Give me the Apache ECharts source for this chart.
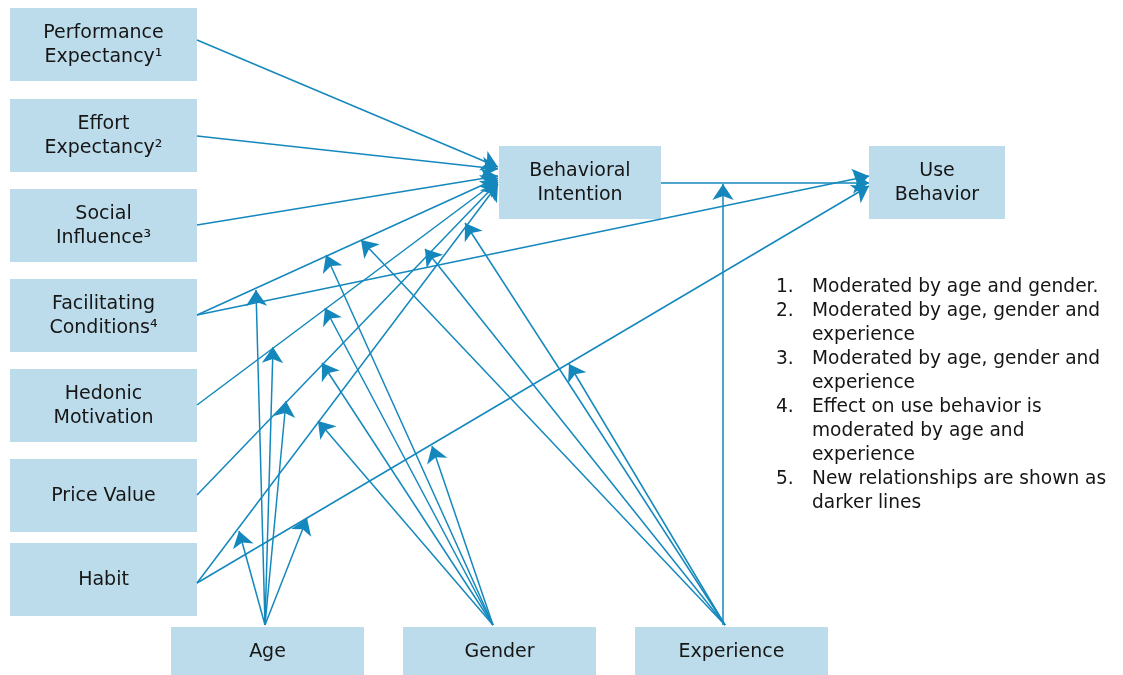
<!DOCTYPE html>
<html><head><meta charset="utf-8">
<script src="https://cdn.jsdelivr.net/npm/echarts@6/dist/echarts.min.js"></script>
<style>html,body{margin:0;padding:0;background:#fff}#c{width:1123px;height:675px}</style>
</head><body><div id="c"></div>
<script>
// ---- Diagram content ----
const constructs = ['Performance\nExpectancy¹','Effort\nExpectancy²','Social\nInfluence³','Facilitating\nConditions⁴','Hedonic\nMotivation','Price Value','Habit'];
const outcomes = ['Behavioral\nIntention','Use\nBehavior'];
const moderators = ['Age','Gender','Experience'];
const notes = ['Moderated by age and gender.','Moderated by age, gender and\nexperience','Moderated by age, gender and\nexperience','Effect on use behavior is\nmoderated by age and\nexperience','New relationships are shown as\ndarker lines'];

// ---- Layout in diagram units (x0, y0, x1, y1) ----
const constructBoxes = [[10,8,197,81],[10,99,197,172],[10,189,197,262],[10,279,197,352],[10,369,197,442],[10,459,197,532],[10,543,197,616]];
const outcomeBoxes = [[499,146,661,219],[869,146,1005,219]];
const moderatorBoxes = [[171,627,364,675],[403,627,596,675],[635,627,828,675]];

// structural paths: [x1,y1,x2,y2] (x2,y2 = arrow tip)
const paths = [
  [197,40,498,167],   // PE -> BI
  [197,136,498,169],  // EE -> BI
  [197,225,498,176],  // SI -> BI
  [197,315,498,178],  // FC -> BI
  [197,315,869,176],  // FC -> UB
  [197,405,498,180],  // HM -> BI
  [197,495,498,182],  // PV -> BI
  [197,583,498,184],  // Habit -> BI
  [197,583,869,186],  // Habit -> UB
  [661,183,869,183]   // BI -> UB
];
// moderation arrows: [x1,y1,x2,y2]
const moderations = [
  [265,625,256,290],[265,625,273,347],[265,625,286,401],[265,625,239,531],[265,625,307,518], // Age
  [493,625,326,255],[493,625,325,308],[493,625,322,363],[493,625,318,421],[493,625,432,446], // Gender
  [725,625,361,240],[725,625,425,249],[725,625,465,223],[725,625,569,364],[723,625,723,184]  // Experience
];

const FONT = '"DejaVu Sans", "Liberation Sans", sans-serif';
const BOX = '#bcdcec', LINE = '#1488bd', TXT = '#161616';
const ARROW = 16;

const boxData = [];
constructs.forEach((t,i)=>boxData.push({value:constructBoxes[i], label:t}));
outcomes.forEach((t,i)=>boxData.push({value:outcomeBoxes[i], label:t}));
moderators.forEach((t,i)=>boxData.push({value:moderatorBoxes[i], label:t}));

const noteRows = [];
let r = 0;
notes.forEach((t,i)=>{ noteRows.push([i, r]); r += t.split('\n').length; });

const chart = echarts.init(document.getElementById('c'));
const toLines = arr => arr.map(a => ({coords:[[a[0],a[1]],[a[2],a[3]]]}));

chart.setOption({
  backgroundColor:'#fff',
  animation:false,
  grid:{left:0,right:0,top:0,bottom:0,containLabel:false},
  xAxis:{type:'value',min:0,max:1123,show:false},
  yAxis:{type:'value',min:0,max:675,inverse:true,show:false},
  series:[
    {
      type:'custom', coordinateSystem:'cartesian2d', z:1,
      data: boxData.map(d=>d.value),
      encode:{x:[0,2],y:[1,3]},
      renderItem:(params, api)=>{
        const p0 = api.coord([api.value(0), api.value(1)]);
        const p1 = api.coord([api.value(2), api.value(3)]);
        return {type:'group', children:[
          {type:'rect', shape:{x:p0[0],y:p0[1],width:p1[0]-p0[0],height:p1[1]-p0[1]}, style:{fill:BOX}},
          {type:'text', x:(p0[0]+p1[0])/2, y:(p0[1]+p1[1])/2+1,
           style:{text:boxData[params.dataIndex].label, fill:TXT, font:'19px '+FONT, align:'center', verticalAlign:'middle', lineHeight:24}}
        ]};
      }
    },
    {
      type:'lines', coordinateSystem:'cartesian2d', z:3,
      data: toLines(paths),
      lineStyle:{color:LINE, width:1.5, opacity:1},
      symbol:['none','arrow'], symbolSize:ARROW,
      silent:true
    },
    {
      type:'lines', coordinateSystem:'cartesian2d', z:3,
      data: toLines(moderations),
      lineStyle:{color:LINE, width:1.5, opacity:1},
      symbol:['none','arrow'], symbolSize:ARROW,
      silent:true
    },
    {
      type:'custom', coordinateSystem:'cartesian2d', z:2,
      data: noteRows,
      encode:{x:0,y:1},
      renderItem:(params, api)=>{
        const i = params.dataIndex, row = noteRows[i][1];
        const pn = api.coord([776, 287 + row*24]);
        const pt = api.coord([812, 287 + row*24]);
        return {type:'group', children:[
          {type:'text', x:pn[0], y:pn[1], style:{text:(i+1)+'.', fill:TXT, font:'18.6px '+FONT, align:'left', verticalAlign:'middle'}},
          {type:'text', x:pt[0], y:pt[1]-12, style:{text:notes[i], fill:TXT, font:'18.6px '+FONT, align:'left', verticalAlign:'top', lineHeight:24}}
        ]};
      }
    }
  ]
});
</script></body></html>
